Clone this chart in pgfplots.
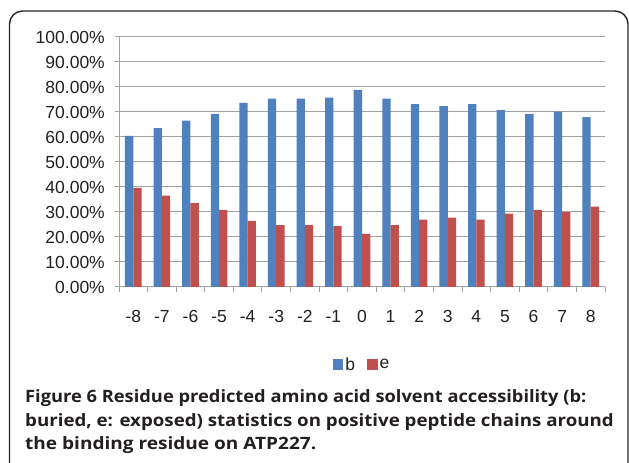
\documentclass[border=0pt]{standalone}
\usepackage{pgfplots}
\pgfplotsset{compat=1.18}
\usepackage{pgfplotstable}
\usepackage{fontspec}
\setmainfont{Liberation Sans}
\newfontfamily\capfont{Open Sans}
\definecolor{barblue}{RGB}{79,129,189}
\definecolor{barred}{RGB}{192,80,77}
\definecolor{gridgray}{RGB}{160,160,160}
\definecolor{txt}{RGB}{35,31,32}
\pgfplotstableread{
x b
0 60.4
1 63.5
2 66.5
3 69.2
4 73.6
5 75.3
6 75.3
7 75.7
8 78.8
9 75.3
10 73.1
11 72.3
12 73.1
13 70.7
14 69.2
15 70.1
16 67.9
}\tabb
\pgfplotstableread{
x e
0 39.6
1 36.5
2 33.5
3 30.8
4 26.4
5 24.7
6 24.7
7 24.3
8 21.2
9 24.7
10 26.9
11 27.7
12 26.9
13 29.3
14 30.8
15 29.9
16 32.1
}\tabe
\begin{document}
\begin{tikzpicture}
\useasboundingbox (0pt,0pt) rectangle (629pt,463pt);
\draw[line width=1.4pt, black!85, rounded corners=13pt] (9.5pt,-30pt) rectangle (628pt,452pt);
\begin{axis}[
  at={(119pt,176pt)}, anchor=south west,
  scale only axis, width=486pt, height=250pt,
  xmin=-0.5, xmax=16.5, ymin=0, ymax=100,
  ybar=0pt, bar width=8.3pt,
  axis x line=bottom, axis y line=left,
  axis line style={-, gridgray, line width=1pt},
  ymajorgrids, grid style={gridgray, line width=1pt},
  ytick={0,10,...,100},
  yticklabel={\pgfmathprintnumber[fixed,fixed zerofill,precision=2]{\tick}\%},
  /pgf/number format/assume math mode=true,
  xtick={0,...,16},
  xticklabels={-8,-7,-6,-5,-4,-3,-2,-1,0,1,2,3,4,5,6,7,8},
  minor xtick={-0.5,0.5,...,16.5},
  major x tick style={draw=none},
  tick align=outside,
  major tick length=4pt, minor tick length=5pt,
  tick style={gridgray, line width=1pt},
  minor tick style={gridgray, line width=1pt},
  tick label style={font=\fontsize{17.5}{20}\selectfont, text=txt},
  yticklabel style={inner sep=0pt, xshift=-10pt},
  xticklabel style={inner sep=0pt, yshift=-19pt},
  legend style={at={(0.5,-0.31)}, anchor=center, draw=none, fill=none,
    font=\fontsize{17.5}{20}\selectfont, text=txt, legend columns=2,
    /tikz/every even column/.append style={column sep=10pt}},
  legend image code/.code={\fill[#1] (0pt,-5.25pt) rectangle (10.5pt,5.25pt);},
]
\addplot[fill=barblue, draw=none] table[x=x,y=b] {\tabb};
\addplot[fill=barred, draw=none] table[x=x,y=e] {\tabe};
\legend{b,e}
\end{axis}
\begin{scope}[every node/.style={anchor=base west, inner sep=0pt, text=txt, font=\capfont\bfseries\fontsize{17}{20}\selectfont}]
\node at (25pt,60pt) {\scalebox{1.076}[1]{Figure 6 Residue predicted amino acid solvent accessibility (b:}};
\node at (25pt,36.5pt) {\scalebox{1.10}[1]{buried, e: exposed) statistics on positive peptide chains around}};
\node at (25pt,13pt) {\scalebox{1.12}[1]{the binding residue on ATP227.}};
\end{scope}
\end{tikzpicture}
\end{document}
